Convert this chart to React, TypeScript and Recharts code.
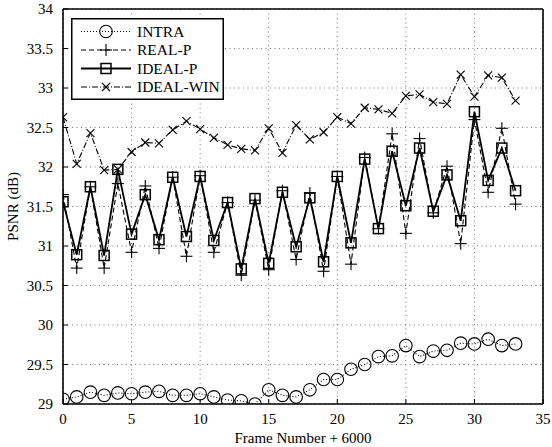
import React from 'react';
import { LineChart, Line, XAxis, YAxis, CartesianGrid, Legend, Label } from 'recharts';

const frames = [0, 1, 2, 3, 4, 5, 6, 7, 8, 9, 10, 11, 12, 13, 14, 15, 16, 17, 18, 19, 20, 21, 22, 23, 24, 25, 26, 27, 28, 29, 30, 31, 32, 33];

const intra = [29.06, 29.09, 29.15, 29.11, 29.14, 29.13, 29.15, 29.16, 29.11, 29.11, 29.13, 29.09, 29.05, 29.04, 29.0, 29.18, 29.11, 29.09, 29.18, 29.31, 29.31, 29.44, 29.5, 29.6, 29.61, 29.74, 29.6, 29.67, 29.68, 29.77, 29.76, 29.82, 29.74, 29.76];

const realP = [31.65, 30.72, 31.75, 30.72, 31.79, 30.92, 31.76, 30.97, 31.87, 30.87, 31.89, 30.92, 31.55, 30.63, 31.58, 30.7, 31.7, 30.83, 31.67, 30.68, 31.88, 30.77, 32.12, 31.22, 32.42, 31.16, 32.36, 31.42, 32.01, 31.03, 32.6, 31.68, 32.49, 31.53];

const idealP = [31.56, 30.89, 31.75, 30.88, 31.97, 31.15, 31.65, 31.08, 31.87, 31.12, 31.88, 31.07, 31.55, 30.71, 31.6, 30.78, 31.68, 30.99, 31.61, 30.8, 31.88, 31.04, 32.1, 31.22, 32.2, 31.51, 32.24, 31.44, 31.9, 31.32, 32.7, 31.83, 32.24, 31.7];

const idealWin = [32.63, 32.04, 32.43, 31.96, 31.97, 32.19, 32.31, 32.3, 32.47, 32.58, 32.48, 32.37, 32.28, 32.23, 32.21, 32.49, 32.18, 32.53, 32.35, 32.44, 32.63, 32.55, 32.75, 32.73, 32.68, 32.9, 32.92, 32.82, 32.8, 33.17, 32.89, 33.16, 33.13, 32.84];

const xTicks = [0, 5, 10, 15, 20, 25, 30, 35];
const yTicks = [29, 29.5, 30, 30.5, 31, 31.5, 32, 32.5, 33, 33.5, 34];

const data = frames.map((f, i) => ({
  frame: f,
  intra: intra[i],
  realP: realP[i],
  idealP: idealP[i],
  idealWin: idealWin[i],
}));

const FONT = '"Liberation Serif", "Times New Roman", serif';

// marker glyphs, drawn around (cx, cy)
function Marker({ kind, cx, cy }: { kind: string; cx: number; cy: number }) {
  const s = { stroke: '#000', strokeWidth: 1.1, fill: 'none' };
  if (kind === 'circle') return <circle cx={cx} cy={cy} r={6.3} {...s} />;
  if (kind === 'square') return <rect x={cx - 5} y={cy - 5} width={10} height={10} {...s} strokeWidth={1.5} />;
  if (kind === 'plus')
    return (
      <g {...s}>
        <line x1={cx - 6} y1={cy} x2={cx + 6} y2={cy} />
        <line x1={cx} y1={cy - 6} x2={cx} y2={cy + 6} />
      </g>
    );
  return (
    <g {...s}>
      <line x1={cx - 4} y1={cy - 4} x2={cx + 4} y2={cy + 4} />
      <line x1={cx - 4} y1={cy + 4} x2={cx + 4} y2={cy - 4} />
    </g>
  );
}

const series = [
  { key: 'intra', name: 'INTRA', marker: 'circle', dash: '1 2', width: 1.1 },
  { key: 'realP', name: 'REAL-P', marker: 'plus', dash: '5 3', width: 1.1 },
  { key: 'idealP', name: 'IDEAL-P', marker: 'square', dash: undefined, width: 1.8 },
  { key: 'idealWin', name: 'IDEAL-WIN', marker: 'cross', dash: '6 2 1 2', width: 1.1 },
];

function LegendBox() {
  return (
    <svg width={153} height={82} style={{ display: 'block' }}>
      <rect x={0.75} y={0.75} width={151.5} height={80.5} fill="#fff" stroke="#000" strokeWidth={1.5} />
      {series.map((s, i) => {
        const y = 13.5 + i * 18.5;
        return (
          <g key={s.key}>
            <line x1={10} y1={y} x2={60} y2={y} stroke="#000" strokeWidth={s.width} strokeDasharray={s.dash} />
            <Marker kind={s.marker} cx={35} cy={y} />
            <text x={66} y={y + 5} fontFamily={FONT} fontSize={15.5} fill="#000">
              {s.name}
            </text>
          </g>
        );
      })}
    </svg>
  );
}

export default function App() {
  const tickStyle = { fontFamily: FONT, fontSize: 15, fill: '#000' };
  const axisLine = { stroke: '#000', strokeWidth: 1.6 };
  return (
    <div style={{ position: 'absolute', left: 0, top: 0, background: '#fff' }}>
      <LineChart width={552} height={447} data={data} margin={{ top: 8, right: 8, bottom: 0, left: 0 }}>
        <CartesianGrid stroke="#555" strokeDasharray="1 3.5" strokeWidth={0.8} />
        <XAxis
          dataKey="frame"
          type="number"
          domain={[0, 35]}
          ticks={xTicks}
          allowDataOverflow
          height={43}
          stroke="#000"
          axisLine={axisLine}
          tickSize={-5}
          tickMargin={14}
          tick={tickStyle}
        >
          <Label value="Frame Number + 6000" position="insideBottom" offset={4} style={{ fontFamily: FONT, fontSize: 15, fill: '#000' }} />
        </XAxis>
        <XAxis
          xAxisId="top"
          orientation="top"
          dataKey="frame"
          type="number"
          domain={[0, 35]}
          ticks={xTicks}
          allowDataOverflow
          height={1}
          stroke="#000"
          axisLine={axisLine}
          tickSize={-5}
          tick={false}
        />
        <YAxis
          type="number"
          domain={[29, 34]}
          ticks={yTicks}
          allowDataOverflow
          width={63}
          stroke="#000"
          axisLine={axisLine}
          tickSize={-5}
          tickMargin={15}
          tick={tickStyle}
        >
          <Label
            value="PSNR (dB)"
            angle={-90}
            position="insideLeft"
            offset={13}
            style={{ fontFamily: FONT, fontSize: 15, fill: '#000', textAnchor: 'middle' }}
          />
        </YAxis>
        <YAxis
          yAxisId="right"
          orientation="right"
          type="number"
          domain={[29, 34]}
          ticks={yTicks}
          allowDataOverflow
          width={1}
          stroke="#000"
          axisLine={axisLine}
          tickSize={-5}
          tick={false}
        />
        {series.map((s) => (
          <Line
            key={s.key}
            dataKey={s.key}
            name={s.name}
            type="linear"
            stroke="#000"
            strokeWidth={s.width}
            strokeDasharray={s.dash}
            isAnimationActive={false}
            dot={(p: any) => <Marker key={`${s.key}-${p.index}`} kind={s.marker} cx={p.cx} cy={p.cy} />}
            activeDot={false}
          />
        ))}
        <Legend
          layout="vertical"
          align="center"
          verticalAlign="middle"
          wrapperStyle={{ left: 71, top: 18, width: 153, height: 82 }}
          content={() => <LegendBox />}
        />
      </LineChart>
    </div>
  );
}
